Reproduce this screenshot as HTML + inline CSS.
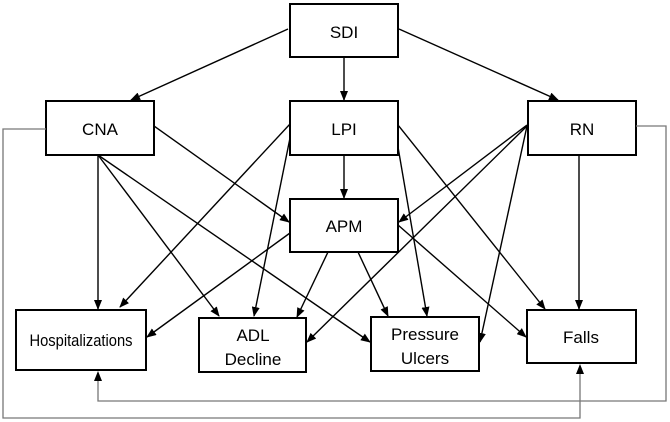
<!DOCTYPE html>
<html><head><meta charset="utf-8"><style>html,body{margin:0;padding:0;background:#fff}svg{display:block}</style></head><body>
<svg width="670" height="422" viewBox="0 0 670 422" xmlns="http://www.w3.org/2000/svg">
<defs><marker id="a" markerWidth="10" markerHeight="8" refX="9" refY="4" orient="auto" markerUnits="userSpaceOnUse"><path d="M0,0 L10,4 L0,8 z" fill="#000"/></marker></defs>
<g fill="#fff" stroke="#000" stroke-width="2">
<rect x="290" y="4" width="108" height="53"/>
<rect x="46" y="101" width="108" height="54"/>
<rect x="290" y="101" width="108" height="54"/>
<rect x="528" y="101" width="108" height="54"/>
<rect x="290" y="199" width="108" height="53"/>
<rect x="16" y="310" width="130" height="60"/>
<rect x="199" y="318" width="107" height="54"/>
<rect x="371" y="317" width="108" height="54"/>
<rect x="527" y="310" width="109" height="53"/>
</g>
<g stroke="#777" stroke-width="1.3" fill="none">
<polyline points="46,129 3,129 3,418 580,418 580,366"/>
<polyline points="636,126 666,126 666,401 98,401 98,373"/>
</g>
<path d="M580,364 l-4,10 l8,0z M98,371 l-4,10 l8,0z" fill="#000"/>
<g stroke="#000" stroke-width="1.4" marker-end="url(#a)">
<line x1="288" y1="29" x2="131" y2="100"/>
<line x1="344" y1="57" x2="344" y2="100"/>
<line x1="399" y1="29" x2="558" y2="100"/>
<line x1="154" y1="126" x2="289" y2="222"/>
<line x1="98" y1="155" x2="98" y2="309"/>
<line x1="98" y1="155" x2="219" y2="316"/>
<line x1="98" y1="155" x2="370" y2="342"/>
<line x1="290" y1="124" x2="120" y2="307"/>
<line x1="290" y1="138" x2="254" y2="316"/>
<line x1="344" y1="155" x2="344" y2="198"/>
<line x1="398" y1="147" x2="427" y2="316"/>
<line x1="398" y1="125" x2="545" y2="309"/>
<line x1="290" y1="233" x2="147" y2="337"/>
<line x1="328" y1="252" x2="297" y2="317"/>
<line x1="358" y1="252" x2="388" y2="316"/>
<line x1="398" y1="225" x2="526" y2="337"/>
<line x1="527" y1="125" x2="399" y2="222"/>
<line x1="527" y1="126" x2="307" y2="342"/>
<line x1="527" y1="126" x2="480" y2="342"/>
<line x1="579" y1="155" x2="579" y2="309"/>
</g>
<g font-family="Liberation Sans, sans-serif" font-size="17" text-anchor="middle" fill="#000">
<text x="344" y="38">SDI</text>
<text x="100" y="135">CNA</text>
<text x="344" y="135">LPI</text>
<text x="582" y="135">RN</text>
<text x="344" y="232">APM</text>
<text x="81" y="346" textLength="103" lengthAdjust="spacingAndGlyphs">Hospitalizations</text>
<text x="253" y="341">ADL</text>
<text x="253" y="365">Decline</text>
<text x="425" y="340">Pressure</text>
<text x="425" y="364">Ulcers</text>
<text x="581" y="343">Falls</text>
</g>
</svg>
</body></html>
